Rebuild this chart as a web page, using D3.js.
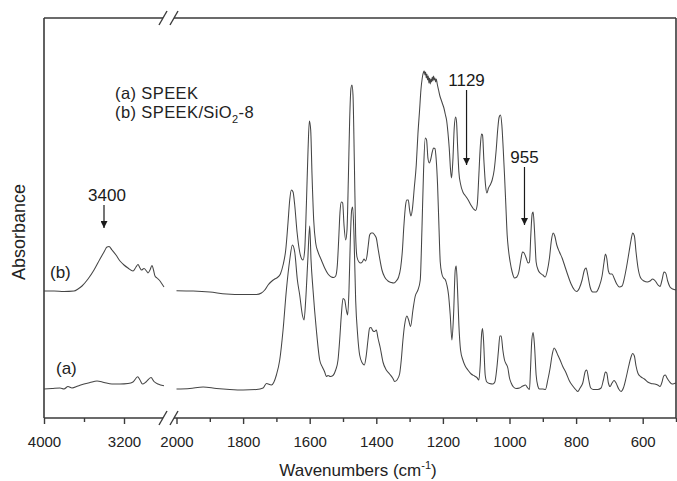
<!DOCTYPE html>
<html>
<head>
<meta charset="utf-8">
<script src="https://cdn.jsdelivr.net/npm/d3@7/dist/d3.min.js"></script>
<style>
  html, body { margin: 0; padding: 0; background: #fff; }
  svg { display: block; font-family: "Liberation Sans", Arial, Helvetica, sans-serif; }
</style>
</head>
<body>
<svg id="chart" width="677" height="481"></svg>
<script>
// FTIR spectra, offset vertically. Two wavenumber windows joined by an axis break.
// [wavenumber (cm-1), absorbance (a.u., offset)]

// (a) SPEEK, 4000–2800 cm-1
const speekHigh = [
  [4000,0.29],[3920,0.295],[3840,0.30],[3800,0.29],[3760,0.315],[3720,0.30],[3660,0.32],
  [3600,0.34],[3540,0.355],[3470,0.37],[3400,0.355],[3320,0.34],[3240,0.34],[3160,0.345],
  [3110,0.36],[3063,0.413],[3040,0.38],[3015,0.34],[2980,0.36],[2930,0.405],[2900,0.365],
  [2860,0.34],[2800,0.323]
];

// (a) SPEEK, 2000–500 cm-1
const speekLow = [
  [2000,0.29],[1960,0.295],[1920,0.31],[1880,0.295],[1840,0.285],[1800,0.28],[1760,0.285],
  [1740,0.30],[1730,0.345],[1715,0.33],[1700,0.43],[1690,0.58],[1680,0.88],[1670,1.28],
  [1660,1.58],[1652,1.73],[1645,1.66],[1637,1.38],[1630,1.23],[1622,1.03],[1617,0.98],
  [1612,1.18],[1606,1.56],[1600,1.92],[1596,1.58],[1590,1.28],[1580,0.88],[1570,0.58],
  [1562,0.51],[1555,0.46],[1550,0.415],[1545,0.425],[1538,0.415],[1530,0.425],[1522,0.48],
  [1515,0.58],[1510,0.78],[1505,1.03],[1500,1.195],[1495,1.18],[1490,1.08],[1486,1.03],
  [1482,1.28],[1478,1.78],[1474,2.08],[1471,2.11],[1467,1.83],[1462,1.18],[1456,0.83],
  [1450,0.63],[1442,0.55],[1436,0.53],[1430,0.63],[1425,0.78],[1420,0.90],[1416,0.905],
  [1410,0.87],[1405,0.865],[1400,0.88],[1395,0.80],[1388,0.70],[1380,0.56],[1370,0.48],
  [1360,0.44],[1350,0.395],[1345,0.365],[1338,0.38],[1330,0.44],[1325,0.58],[1320,0.78],
  [1315,0.93],[1308,1.02],[1303,0.98],[1297,0.915],[1290,1.08],[1283,1.22],[1275,1.28],
  [1268,1.38],[1263,1.88],[1258,2.48],[1253,2.80],[1249,2.78],[1245,2.60],[1241,2.55],
  [1237,2.58],[1232,2.66],[1228,2.70],[1224,2.695],[1220,2.58],[1216,2.33],[1212,1.93],
  [1208,1.56],[1203,1.44],[1198,1.40],[1193,1.385],[1188,1.33],[1183,1.23],[1178,1.03],
  [1173,0.78],[1168,1.03],[1163,1.48],[1160,1.52],[1156,1.28],[1152,0.93],[1147,0.68],
  [1140,0.58],[1133,0.52],[1125,0.48],[1115,0.44],[1105,0.42],[1098,0.405],[1092,0.38],
  [1088,0.53],[1084,0.83],[1081,0.895],[1078,0.78],[1073,0.43],[1068,0.36],[1060,0.345],
  [1050,0.34],[1044,0.36],[1038,0.50],[1033,0.68],[1029,0.82],[1025,0.82],[1020,0.68],
  [1015,0.58],[1010,0.54],[1005,0.50],[1000,0.40],[995,0.35],[988,0.31],[980,0.295],
  [970,0.30],[960,0.32],[952,0.33],[945,0.30],[940,0.285],[937,0.48],[933,0.78],
  [929,0.855],[925,0.73],[920,0.43],[915,0.32],[910,0.29],[900,0.29],[892,0.285],
  [885,0.38],[878,0.50],[872,0.63],[866,0.70],[860,0.67],[855,0.63],[848,0.58],[840,0.515],
  [830,0.45],[820,0.37],[810,0.32],[800,0.28],[795,0.265],[788,0.30],[780,0.35],[772,0.47],
  [768,0.48],[762,0.38],[756,0.30],[748,0.285],[735,0.285],[725,0.30],[718,0.38],[712,0.46],
  [708,0.45],[703,0.35],[698,0.315],[692,0.35],[686,0.375],[680,0.35],[672,0.29],[665,0.265],
  [658,0.30],[650,0.40],[642,0.52],[636,0.60],[630,0.645],[625,0.62],[620,0.52],[614,0.445],
  [605,0.41],[595,0.39],[585,0.36],[575,0.345],[565,0.34],[555,0.33],[548,0.315],[542,0.36],
  [537,0.42],[532,0.43],[527,0.40],[520,0.365],[512,0.34],[505,0.345],[500,0.35]
];

// (b) SPEEK/SiO2-8, 4000–2800 cm-1
const compositeHigh = [
  [4000,1.27],[3900,1.27],[3800,1.265],[3700,1.27],[3660,1.29],[3620,1.32],[3560,1.39],
  [3500,1.48],[3440,1.59],[3400,1.66],[3370,1.71],[3350,1.715],[3320,1.68],[3280,1.63],
  [3240,1.57],[3200,1.53],[3160,1.50],[3110,1.47],[3080,1.51],[3060,1.535],[3040,1.50],
  [3025,1.48],[3000,1.495],[2975,1.47],[2960,1.45],[2940,1.48],[2920,1.525],[2905,1.48],
  [2890,1.42],[2870,1.40],[2840,1.37],[2820,1.34],[2800,1.31]
];

// (b) SPEEK/SiO2-8, 2000–500 cm-1
const compositeLow = [
  [2000,1.273],[1950,1.27],[1900,1.26],[1850,1.24],[1800,1.235],[1760,1.235],[1745,1.25],
  [1735,1.28],[1725,1.33],[1715,1.365],[1705,1.39],[1697,1.405],[1688,1.44],[1680,1.53],
  [1672,1.68],[1665,1.96],[1660,2.18],[1655,2.28],[1650,2.26],[1645,2.13],[1638,1.86],
  [1630,1.66],[1624,1.59],[1620,1.58],[1615,1.68],[1610,2.13],[1605,2.68],[1601,2.97],
  [1597,2.88],[1593,2.43],[1588,1.98],[1582,1.75],[1575,1.66],[1565,1.58],[1555,1.50],
  [1545,1.44],[1535,1.41],[1528,1.405],[1522,1.42],[1517,1.53],[1513,1.78],[1509,2.06],
  [1505,2.16],[1501,2.15],[1497,1.93],[1492,1.78],[1488,1.88],[1484,2.38],[1480,2.98],
  [1476,3.30],[1473,3.33],[1470,3.23],[1466,2.58],[1462,1.83],[1458,1.61],[1452,1.56],
  [1447,1.55],[1442,1.56],[1437,1.59],[1432,1.57],[1428,1.62],[1424,1.73],[1420,1.83],
  [1415,1.85],[1410,1.85],[1405,1.83],[1400,1.80],[1395,1.70],[1390,1.60],[1383,1.48],
  [1375,1.41],[1365,1.37],[1355,1.355],[1347,1.35],[1340,1.37],[1333,1.41],[1327,1.50],
  [1322,1.66],[1317,1.93],[1312,2.13],[1308,2.18],[1304,2.18],[1300,2.08],[1296,2.02],
  [1292,2.08],[1286,2.30],[1280,2.53],[1275,2.84],[1270,3.08],[1266,3.28],[1262,3.40],
  [1258,3.46],[1256,3.47],[1254,3.43],[1252,3.46],[1250,3.40],[1248,3.44],[1246,3.38],
  [1244,3.42],[1242,3.35],[1240,3.40],[1238,3.34],[1236,3.39],[1234,3.36],[1232,3.41],
  [1230,3.37],[1228,3.42],[1226,3.38],[1224,3.40],[1222,3.36],[1220,3.39],[1217,3.34],
  [1213,3.28],[1209,3.22],[1205,3.18],[1201,3.14],[1197,3.10],[1193,3.04],[1189,2.98],
  [1185,2.86],[1181,2.70],[1177,2.48],[1174,2.40],[1170,2.58],[1166,2.90],[1162,3.01],
  [1159,2.96],[1156,2.73],[1152,2.46],[1147,2.34],[1140,2.26],[1132,2.22],[1124,2.18],
  [1116,2.13],[1108,2.09],[1102,2.075],[1097,2.13],[1092,2.43],[1088,2.70],[1084,2.84],
  [1081,2.83],[1077,2.58],[1072,2.33],[1068,2.25],[1063,2.30],[1058,2.33],[1052,2.38],
  [1046,2.48],[1040,2.68],[1035,2.90],[1031,3.01],[1027,3.03],[1023,2.93],[1019,2.70],
  [1015,2.43],[1011,2.13],[1007,1.83],[1003,1.68],[998,1.56],[992,1.46],[985,1.40],
  [978,1.41],[972,1.46],[966,1.58],[961,1.66],[956,1.65],[950,1.60],[944,1.55],[940,1.56],
  [936,1.83],[932,2.04],[929,2.06],[925,1.88],[920,1.56],[914,1.48],[908,1.45],[900,1.43],
  [893,1.41],[886,1.48],[880,1.60],[874,1.78],[869,1.85],[864,1.82],[858,1.73],[850,1.66],
  [842,1.60],[834,1.52],[825,1.43],[815,1.34],[805,1.28],[798,1.265],[790,1.30],[782,1.38],
  [775,1.48],[770,1.50],[765,1.43],[758,1.31],[750,1.26],[740,1.26],[730,1.32],[722,1.42],
  [716,1.56],[712,1.64],[708,1.60],[703,1.47],[698,1.44],[692,1.44],[686,1.40],[678,1.34],
  [670,1.31],[662,1.32],[655,1.40],[648,1.52],[641,1.66],[635,1.78],[630,1.85],[625,1.82],
  [620,1.66],[614,1.50],[606,1.40],[596,1.37],[586,1.36],[578,1.37],[570,1.39],[562,1.37],
  [554,1.33],[548,1.315],[542,1.38],[536,1.46],[531,1.45],[525,1.37],[518,1.31],[510,1.29],
  [500,1.28]
];

// Axis ticks for each window
const majorTicksHigh = [4000, 3200];
const minorTicksHigh = [3600];
const majorTicksLow = [2000, 1800, 1600, 1400, 1200, 1000, 800, 600];
const minorTicksLow = [1900, 1700, 1500, 1300, 1100, 900, 700, 500];

// Band assignments marked with arrows: [label, wavenumber, tail absorbance, tip absorbance]
const bandMarks = [
  ["3400", 3400, 2.13, 1.90],
  ["1129", 1129, 3.28, 2.53],
  ["955", 955, 2.51, 1.93]
];

// Curve labels: [text, wavenumber, absorbance]
const curveLabels = [
  ["(a)", 3880, 0.44],
  ["(b)", 3940, 1.40]
];

const svg = d3.select("#chart");
const plotLeft = 44, plotRight = 676, plotTop = 18, plotBottom = 418;
const breakL = 164, breakR = 176.5;

const xHigh = d3.scaleLinear().domain([4000, 2800]).range([plotLeft, breakL]);
const xLow = d3.scaleLinear().domain([2000, 500]).range([breakR, plotRight]);
const y = d3.scaleLinear().domain([0, 4]).range([plotBottom, plotTop]);

const lineColor = "#454545";
const frameColor = "#3a3a3a";

// Spectra
function drawSpectrum(data, xs) {
  const line = d3.line()
    .x(d => xs(d[0]))
    .y(d => y(d[1]))
    .curve(d3.curveMonotoneX);
  svg.append("path")
    .datum(data)
    .attr("fill", "none")
    .attr("stroke", lineColor)
    .attr("stroke-width", 1.05)
    .attr("stroke-linejoin", "round")
    .attr("d", line);
}
drawSpectrum(speekHigh, xHigh);
drawSpectrum(speekLow, xLow);
drawSpectrum(compositeHigh, xHigh);
drawSpectrum(compositeLow, xLow);

// Frame with broken top and bottom edges
const frame = svg.append("g")
  .attr("stroke", frameColor)
  .attr("stroke-width", 1.6)
  .attr("fill", "none");
const gapL = 163, gapR = 174;
[
  [[plotLeft, plotTop], [plotLeft, plotBottom]],
  [[plotRight, plotTop], [plotRight, plotBottom]],
  [[plotLeft, plotTop], [gapL, plotTop]],
  [[gapR, plotTop], [plotRight, plotTop]],
  [[plotLeft, plotBottom], [gapL, plotBottom]],
  [[gapR, plotBottom], [plotRight, plotBottom]]
].forEach(seg => frame.append("path").attr("d", d3.line()(seg)));

// Break marks
[plotTop, plotBottom].forEach(yy => {
  [gapL, gapR].forEach(cx => {
    frame.append("path")
      .attr("stroke-width", 1.4)
      .attr("d", d3.line()([[cx - 4, yy + 7], [cx + 4, yy - 7]]));
  });
});

// Bottom axes
function drawAxis(xs, majors, minors) {
  const g = svg.append("g").attr("transform", `translate(0,${plotBottom})`);
  g.call(d3.axisBottom(xs).tickValues(majors).tickSize(6).tickPadding(12).tickFormat(d3.format("d")));
  g.select(".domain").remove();
  g.selectAll(".tick line").attr("stroke", frameColor).attr("stroke-width", 1.4);
  g.selectAll(".tick text")
    .attr("fill", "#222")
    .style("font-size", "15px")
    .style("font-family", "'Liberation Sans', Arial, sans-serif");
  const gm = svg.append("g").attr("transform", `translate(0,${plotBottom})`);
  gm.call(d3.axisBottom(xs).tickValues(minors).tickSize(4).tickFormat(""));
  gm.select(".domain").remove();
  gm.selectAll(".tick line").attr("stroke", frameColor).attr("stroke-width", 1.4);
}
drawAxis(xHigh, majorTicksHigh, minorTicksHigh);
drawAxis(xLow, majorTicksLow, minorTicksLow);

// Axis titles
const xTitle = svg.append("text")
  .attr("x", 358).attr("y", 476)
  .attr("text-anchor", "middle")
  .attr("fill", "#222")
  .style("font-size", "17px");
xTitle.append("tspan").text("Wavenumbers (cm");
xTitle.append("tspan").attr("dy", -7).style("font-size", "11px").text("-1");
xTitle.append("tspan").attr("dy", 7).text(")");

svg.append("text")
  .attr("transform", "translate(25,232) rotate(-90)")
  .attr("text-anchor", "middle")
  .attr("fill", "#222")
  .style("font-size", "18px")
  .text("Absorbance");

// Legend
svg.append("text")
  .attr("x", 115).attr("y", 99)
  .attr("fill", "#222")
  .style("font-size", "16.5px")
  .style("letter-spacing", "0.4px")
  .text("(a) SPEEK");
const leg2 = svg.append("text")
  .attr("x", 115).attr("y", 117.5)
  .attr("fill", "#222")
  .style("font-size", "16.5px")
  .style("letter-spacing", "0.4px");
leg2.append("tspan").text("(b) SPEEK/SiO");
leg2.append("tspan").attr("dy", 5).style("font-size", "11px").text("2");
leg2.append("tspan").attr("dy", -5).text("-8");

// Curve labels
curveLabels.forEach(([t, wn, a]) => {
  svg.append("text")
    .attr("x", xHigh(wn)).attr("y", y(a))
    .attr("fill", "#222")
    .style("font-size", "17px")
    .text(t);
});

// Band arrows
svg.append("defs").append("marker")
  .attr("id", "arrowhead")
  .attr("viewBox", "0 0 10 10")
  .attr("refX", 10).attr("refY", 5)
  .attr("markerWidth", 7).attr("markerHeight", 7)
  .attr("markerUnits", "userSpaceOnUse")
  .attr("orient", "auto")
  .append("path")
  .attr("d", "M0,0 L10,5 L0,10 Z")
  .attr("fill", "#1a1a1a");

bandMarks.forEach(([label, wn, a0, a1]) => {
  const xs = wn > 2000 ? xHigh : xLow;
  const px = xs(wn);
  svg.append("line")
    .attr("x1", px).attr("x2", px)
    .attr("y1", y(a0)).attr("y2", y(a1))
    .attr("stroke", "#1a1a1a")
    .attr("stroke-width", 1.2)
    .attr("marker-end", "url(#arrowhead)");
  svg.append("text")
    .attr("x", px + (wn > 2000 ? 3 : 0)).attr("y", y(a0) - 4)
    .attr("text-anchor", "middle")
    .attr("fill", "#1a1a1a")
    .style("font-size", "17px")
    .text(label);
});
</script>
</body>
</html>
